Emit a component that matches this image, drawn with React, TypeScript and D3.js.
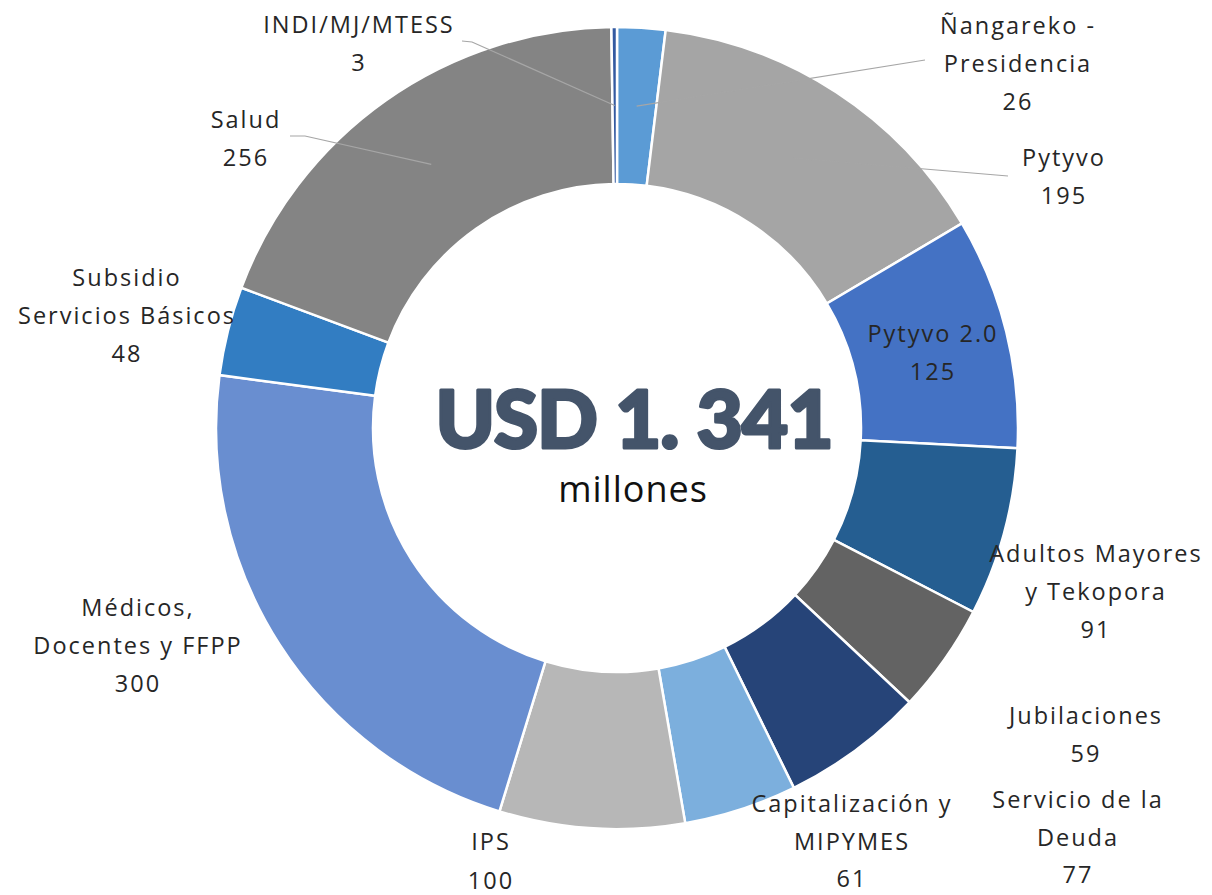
import React from "react";
import * as d3 from "d3";

const categories = [
  "Ñangareko - Presidencia",
  "Pytyvo",
  "Pytyvo 2.0",
  "Adultos Mayores y Tekopora",
  "Jubilaciones",
  "Servicio de la Deuda",
  "Capitalización y MIPYMES",
  "IPS",
  "Médicos, Docentes y FFPP",
  "Subsidio Servicios Básicos",
  "Salud",
  "INDI/MJ/MTESS",
];
const values = [26, 195, 125, 91, 59, 77, 61, 100, 300, 48, 256, 3];
const colors = [
  "#5b9bd5", "#a5a5a5", "#4472c4", "#255e91", "#636363", "#264478",
  "#7cafdd", "#b7b7b7", "#698ed0", "#327dc2", "#848484", "#335aa1",
];
// label text lines (category split as in the chart)
const labelLines = [
  ["Ñangareko -", "Presidencia"],
  ["Pytyvo"],
  ["Pytyvo 2.0"],
  ["Adultos Mayores", "y Tekopora"],
  ["Jubilaciones"],
  ["Servicio de la", "Deuda"],
  ["Capitalización y", "MIPYMES"],
  ["IPS"],
  ["Médicos,", "Docentes y FFPP"],
  ["Subsidio", "Servicios Básicos"],
  ["Salud"],
  ["INDI/MJ/MTESS"],
];
// label anchor (center x, first baseline y) — layout
const labelPos: [number, number][] = [
  [1017, 34], [1063, 166], [932, 342], [1095, 562], [1085, 724], [1077, 808],
  [851, 812], [490, 850], [137, 616], [126, 286], [245, 128], [358, 33],
];
const lineHs = [38, 38, 38, 38, 38, 37.5, 37.5, 38.5, 38, 38, 38, 38];
// leader line end points near labels (null = no leader)
const leaderEnd: ([number, number][] | null)[] = [
  [[925, 60]], [[1008, 176]], null, null, null, null,
  null, null, null, null, [[305, 136], [290, 136]], [[472, 42], [462, 41]],
];

const W = 1212, H = 895;
const cx = 617, cy = 428;
const outerR = 401, innerR = 244;

export default function App() {
  const pie = d3.pie<number>().sort(null).value((d) => d).startAngle(0).endAngle(2 * Math.PI);
  const arcs = pie(values);
  const arc = d3.arc<d3.PieArcDatum<number>>().innerRadius(innerR).outerRadius(outerR);
  const midR = (innerR + outerR) / 2;
  const font = "'Open Sans', 'DejaVu Sans', sans-serif";
  return (
    <svg width={W} height={H} style={{ position: "absolute", left: 0, top: 0, background: "#fff" }}>
      <g transform={`translate(${cx},${cy})`}>
        {arcs.map((a, i) => (
          <path key={i} d={arc(a) || ""} fill={colors[i]} stroke="#fff" strokeWidth={2.5} />
        ))}
      </g>
      {arcs.map((a, i) => {
        const le = leaderEnd[i];
        if (!le) return null;
        const m = (a.startAngle + a.endAngle) / 2;
        const sx = cx + midR * Math.sin(m);
        const sy = cy - midR * Math.cos(m);
        const pts = [[sx, sy], ...le];
        return (
          <polyline key={"l" + i} points={pts.map((p) => p.join(",")).join(" ")} fill="none" stroke="#a6a6a6" strokeWidth={1.2} />
        );
      })}
      {labelLines.map((lines, i) => {
        const [x, y] = labelPos[i];
        const all = [...lines, String(values[i])];
        return (
          <text key={"t" + i} x={x} y={y} textAnchor="middle" fontFamily={font} fontSize={23.5} fill="#262626" letterSpacing={2}>
            {all.map((s, j) => (
              <tspan key={j} x={x + 1} y={y + j * lineHs[i]}>{s}</tspan>
            ))}
          </text>
        );
      })}
      <text x={634} y={448} textAnchor="middle" fontFamily="Lato, Roboto, sans-serif" fontWeight={900} fontSize={80} fill="#44546a" stroke="#44546a" strokeWidth={3} strokeLinejoin="round" letterSpacing={-1}>
        USD 1. 341
      </text>
      <text x={633} y={502} textAnchor="middle" fontFamily="'Open Sans', sans-serif" fontSize={36} fill="#111" letterSpacing={1}>
        millones
      </text>
    </svg>
  );
}
